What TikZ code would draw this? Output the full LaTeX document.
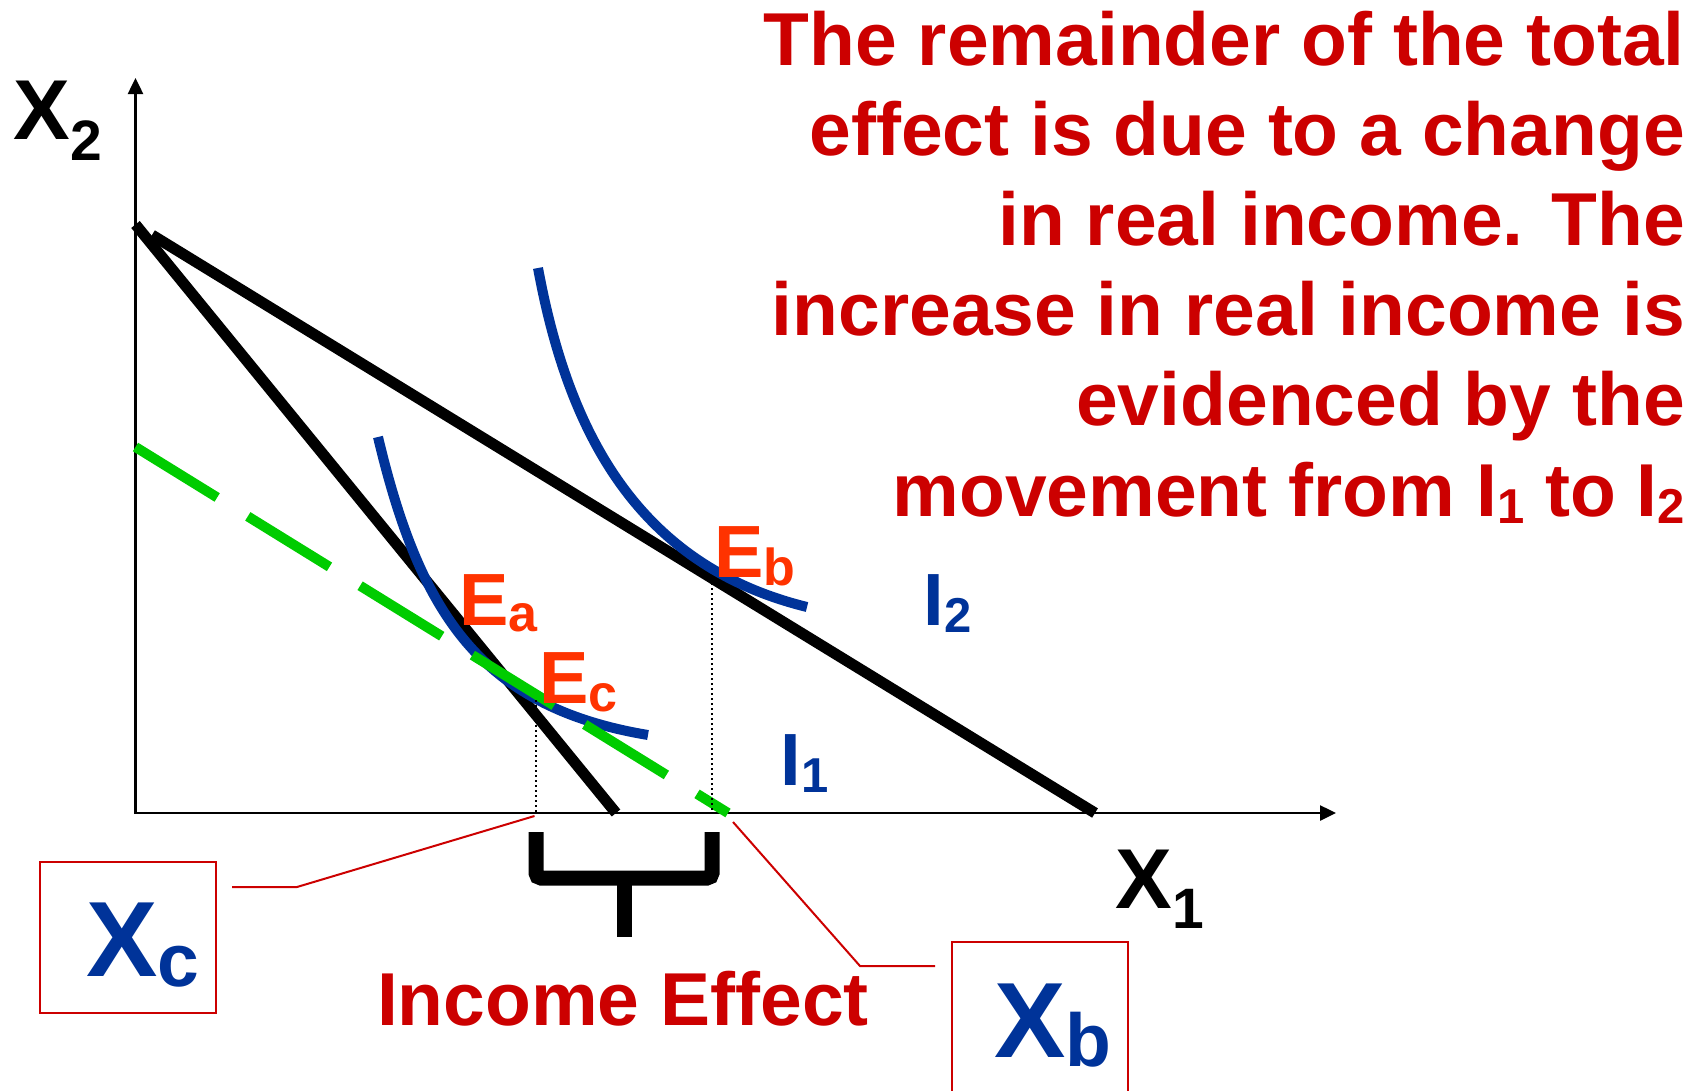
\documentclass[tikz,border=0pt]{standalone}
\usepackage{fontspec}
\setmainfont{Liberation Sans}
\usetikzlibrary{arrows.meta}
\definecolor{txtred}{HTML}{CC0000}
\definecolor{eqorange}{HTML}{FF3300}
\definecolor{icblue}{HTML}{003399}
\definecolor{subgreen}{HTML}{00CC00}
\newcommand\fsz[1]{\fontsize{#1}{#1}\selectfont}
\newcommand\lsub[3]{\raisebox{-#1pt}{\fsz{#2}#3}}
\begin{document}
\begin{tikzpicture}[x=1pt,y=-1pt,
  axisline/.style={line width=2.5pt, {Triangle[length=16pt,width=15pt]}-{Triangle[length=16pt,width=15pt]}},
  budget/.style={line width=11pt, black},
  indiff/.style={line width=10pt, icblue},
  comp/.style={line width=10pt, subgreen, dash pattern=on 96pt off 36pt},
  guide/.style={line width=2pt, black, dash pattern=on 2pt off 3pt},
  callout/.style={line width=2pt, txtred},
  bracketline/.style={line width=15pt, black},
  valbox/.style={draw=txtred, line width=2pt, inner sep=0pt, minimum width=176pt, minimum height=151pt},
  txt/.style={anchor=base east, inner sep=0pt, font=\bfseries\fsz{75}, text=txtred},
  elbl/.style={anchor=base west, inner sep=0pt, font=\bfseries\fsz{74}, text=eqorange},
  ilbl/.style={anchor=base west, inner sep=0pt, font=\bfseries\fsz{74}, text=icblue},
  vlbl/.style={anchor=base west, inner sep=0pt, font=\bfseries\fsz{107}, text=icblue},
  axlbl/.style={anchor=base west, inner sep=0pt, font=\bfseries\fsz{85}, text=black}
]
\useasboundingbox (0,0) rectangle (1700,1090);

% coordinates
\coordinate (O) at (135.5,813);
\coordinate (ytip) at (135.5,78);
\coordinate (xtip) at (1336,813);
\coordinate (A1) at (135.5,224.5);
\coordinate (B1) at (616,813);
\coordinate (A2) at (152,235);
\coordinate (B2) at (1095,813);
\coordinate (G1) at (135.5,447);
\coordinate (G2) at (728,813);
\coordinate (Ec) at (535.5,700);
\coordinate (Eb) at (712,578);

% axes
\draw[axisline] (ytip) -- (O) -- (xtip);

% budget lines
\draw[budget] (A1) -- (B1);
\draw[budget] (A2) -- (B2);

% indifference curves
\draw[indiff] (378,437) .. controls (420,613.4) and (480,707) .. (648,735);
\draw[indiff] (538,268) .. controls (568,430.5) and (636,565) .. (807,607);

% compensated budget line
\draw[comp] (G1) -- (G2);

% dotted guides
\draw[guide] (Ec) -- (Ec |- O);
\draw[guide] (Eb) -- (Eb |- O);

% axis labels
\node[axlbl] (x2lbl) at (13.4,139) {X\lsub{21}{57}{2}};
\node[axlbl] (x1lbl) at (1115.4,908) {X\lsub{20}{57}{1}};

% point labels
\node[elbl] (ealbl) at (459.4,625) {E\lsub{6}{52}{a}};
\node[elbl] (eblbl) at (714.4,577) {E\lsub{8}{52}{b}};
\node[elbl] (eclbl) at (539.4,703) {E\lsub{8}{52}{c}};
\node[ilbl] (i1lbl) at (780.3,785) {I\lsub{7}{49}{1}};
\node[ilbl] (i2lbl) at (923.3,625) {I\lsub{7}{49}{2}};

% bracket
\draw[bracketline, rounded corners=5pt] (536,832) -- (536,878) -- (712,878) -- (712,832);
\draw[bracketline] (624,878) -- (624,937);
\node[anchor=base, inner sep=0pt, font=\bfseries\fsz{75}, text=txtred] (ie) at (623,1025) {Income Effect};

% value boxes
\node[valbox] (xcbox) at (127.5,937.5) {};
\node[vlbl] (xclbl) at (86,976) {X\lsub{10}{75}{c}};
\node[valbox, minimum height=160pt] (xbbox) at (1040,1022) {};
\node[vlbl] (xblbl) at (994,1057) {X\lsub{9}{75}{b}};

% callouts
\coordinate (xcA) at (232,887);
\coordinate (xcB) at (297,887);
\coordinate (xcC) at (534.5,816);
\draw[callout] (xcA) -- (xcB) -- (xcC);
\coordinate (xbA) at (935,966);
\coordinate (xbB) at (860,966);
\coordinate (xbC) at (733,822);
\draw[callout] (xbA) -- (xbB) -- (xbC);

% explanatory text
\node[txt] (t1) at (1685,65) {The remainder of the total};
\node[txt] (t2) at (1685,155.2) {effect is due to a change};
\node[txt] (t3) at (1685,245.4) {in real income. The};
\node[txt] (t4) at (1685,335.6) {increase in real income is};
\node[txt] (t5) at (1685,425.8) {evidenced by the};
\node[txt] (t6) at (1685,516) {movement from I\lsub{7}{49}{1} to I\lsub{7}{49}{2}};
\end{tikzpicture}
\end{document}
